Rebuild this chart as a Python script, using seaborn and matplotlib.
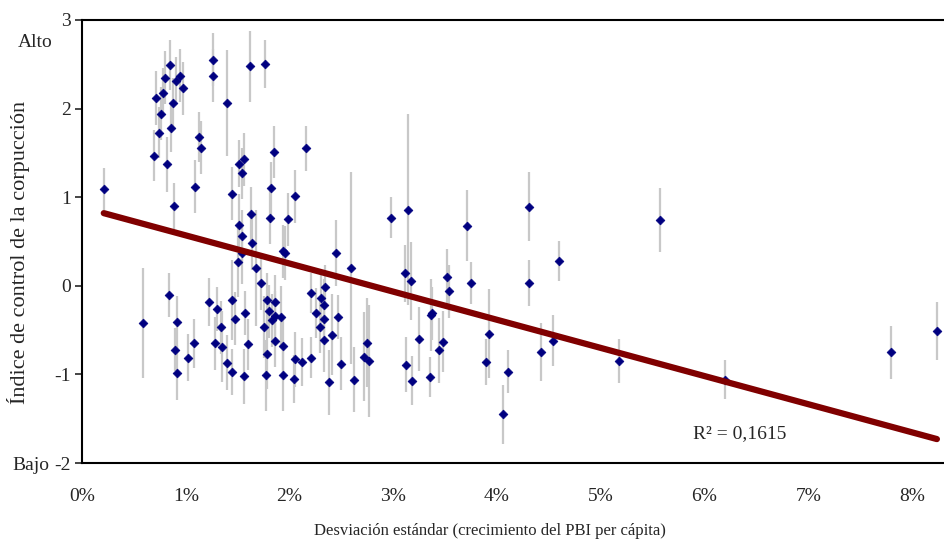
import numpy as np
import pandas as pd
import matplotlib
matplotlib.use("Agg")
import matplotlib.pyplot as plt
import seaborn as sns
from matplotlib.ticker import FuncFormatter

sns.set_style("white")
plt.rcParams['font.family'] = ['Liberation Serif', 'DejaVu Serif']
plt.rcParams['axes.unicode_minus'] = False

# ========== datos ==========
# desviacion estandar del crecimiento del PBI per capita (%)
sd_pct = [0.21, 0.71, 0.69, 0.74, 0.76, 0.78, 0.80, 0.85, 0.91, 0.94,
          0.97, 0.88, 0.86, 0.82, 0.89, 1.13, 1.15, 1.09, 1.26, 1.26,
          1.40, 1.62, 1.76, 1.85, 1.82, 1.51, 1.56, 1.54, 1.45, 1.63,
          2.16, 2.05, 3.14, 1.51, 1.81, 1.54, 1.64, 1.54, 1.50, 1.68,
          1.73, 1.94, 1.96, 1.99, 2.45, 2.59, 2.98, 3.71, 3.11, 3.17,
          3.52, 3.54, 3.75, 4.31, 4.31, 4.60, 5.57,
          0.59, 0.84, 0.92, 0.90, 0.92, 1.02, 1.08, 1.22, 1.30, 1.34,
          1.28, 1.35, 1.40, 1.45, 1.45, 1.47, 1.57, 1.60, 1.56, 1.78,
          1.86, 1.80, 1.86, 1.83, 1.75, 1.92, 1.86, 1.78, 1.77, 1.94,
          1.94, 2.05, 2.04, 2.12, 2.21, 2.21, 2.26, 2.30, 2.34, 2.33,
          2.33, 2.29, 2.33, 2.41, 2.47, 2.50, 2.38, 2.62, 2.75, 2.72,
          2.77, 3.12, 3.18, 3.25, 3.36, 3.37, 3.35, 3.44, 3.48, 3.92,
          3.89, 4.11, 4.06, 4.42, 4.54, 5.18, 6.20, 7.80, 8.24]
# indice de control de la corrupcion
ccorr = [1.09, 2.12, 1.47, 1.73, 1.94, 2.18, 2.35, 2.49, 2.31, 2.37,
         2.23, 2.06, 1.78, 1.37, 0.90, 1.68, 1.56, 1.12, 2.55, 2.37,
         2.06, 2.48, 2.50, 1.51, 1.10, 1.38, 1.43, 1.27, 1.04, 0.81,
         1.55, 1.01, 0.86, 0.69, 0.77, 0.56, 0.48, 0.37, 0.27, 0.20,
         0.03, 0.39, 0.37, 0.75, 0.37, 0.20, 0.77, 0.68, 0.14, 0.05,
         0.10, -0.06, 0.03, 0.89, 0.03, 0.28, 0.74,
         -0.42, -0.10, -0.41, -0.72, -0.98, -0.81, -0.65, -0.18, -0.26, -0.47,
         -0.65, -0.69, -0.87, -0.97, -0.16, -0.37, -0.31, -0.66, -1.02, -0.16,
         -0.18, -0.29, -0.34, -0.39, -0.46, -0.35, -0.62, -0.77, -1.01, -0.68,
         -1.01, -0.83, -1.05, -0.86, -0.81, -0.08, -0.31, -0.14, -0.01, -0.22,
         -0.38, -0.46, -0.61, -0.55, -0.35, -0.88, -1.09, -1.06, -0.64, -0.80,
         -0.85, -0.89, -1.07, -0.60, -0.33, -0.31, -1.03, -0.73, -0.63, -0.54,
         -0.86, -0.97, -1.45, -0.75, -0.62, -0.85, -1.06, -0.75, -0.51]
# semi-amplitud del intervalo (barras grises)
err = [0.24, 0.31, 0.29, 0.29, 0.30, 0.28, 0.30, 0.28, 0.27, 0.30,
       0.30, 0.29, 0.27, 0.31, 0.26, 0.28, 0.30, 0.30, 0.30, 0.30,
       0.60, 0.40, 0.27, 0.29, 0.30, 0.27, 0.30, 0.29, 0.30, 0.30,
       0.25, 0.30, 1.08, 0.35, 0.30, 0.30, 0.30, 0.35, 0.40, 0.65,
       0.30, 0.30, 0.30, 0.30, 0.37, 1.08, 0.23, 0.40, 0.32, 0.44,
       0.32, 0.30, 0.24, 0.39, 0.26, 0.23, 0.36,
       0.62, 0.25, 0.30, 0.24, 0.31, 0.27, 0.28, 0.27, 0.25, 0.30,
       0.30, 0.40, 0.31, 0.26, 0.45, 0.30, 0.25, 0.29, 0.31, 0.30,
       0.30, 0.30, 0.28, 0.30, 0.35, 0.35, 0.30, 0.40, 0.40, 0.35,
       0.40, 0.31, 0.27, 0.27, 0.23, 0.23, 0.28, 0.28, 0.25, 0.30,
       0.30, 0.30, 0.36, 0.46, 0.25, 0.30, 0.37, 0.37, 0.50, 0.50,
       0.63, 0.31, 0.28, 0.36, 0.41, 0.30, 0.23, 0.37, 0.34, 0.50,
       0.26, 0.24, 0.33, 0.33, 0.29, 0.25, 0.22, 0.30, 0.33]

# linea de tendencia (extremos)
trend_x = [0.21, 8.24]
trend_y = [0.82, -1.73]
r2_label = "R² = 0,1615"

df = pd.DataFrame({"sd": sd_pct, "cc": ccorr, "err": err})

# ========== grafico ==========
fig = plt.figure(figsize=(9.45, 5.42), dpi=100)
ax = fig.add_axes([82 / 945, 79 / 542, 1 - 82 / 945, (463 - 20) / 542])

ax.vlines(df["sd"], df["cc"] - df["err"], df["cc"] + df["err"],
          color="#c8c8c8", lw=1.6, zorder=1)
sns.scatterplot(data=df, x="sd", y="cc", marker="D", s=20, color="#000080",
                edgecolor="#000080", linewidth=0.5, ax=ax, zorder=3)
sns.lineplot(x=trend_x, y=trend_y, color="#800000", lw=4.5, ax=ax, zorder=4,
             solid_capstyle="round")

ax.set_xlim(0, (945 - 82) / 103.75)
ax.set_ylim(-2, 3)
ax.set_xticks(range(0, 9))
ax.xaxis.set_major_formatter(FuncFormatter(lambda v, p: f"{v:.0f}%"))
ax.set_yticks(range(-2, 4))

for s in ["left", "top", "bottom"]:
    ax.spines[s].set_color("black")
    ax.spines[s].set_linewidth(1.5)
ax.spines["right"].set_visible(False)

ax.tick_params(axis="x", length=0, pad=18, labelsize=14)
ax.tick_params(axis="y", direction="out", length=5, width=1.2, pad=3,
               labelsize=14, left=True)

ax.set_xlabel("Desviación estándar (crecimiento del PBI per cápita)", fontsize=12)
ax.xaxis.set_label_coords((490 - 82) / (945 - 82), -60 / 443)
ax.set_ylabel("Índice de control de la corpucción", fontsize=16)
ax.yaxis.set_label_coords(-52 / 863, (463 - 252) / 443)

ax.text(5.89, -1.67, r2_label, fontsize=14, ha="left", va="center")

fig.text(18 / 945, 1 - 42 / 542, "Alto", fontsize=14, va="center", ha="left")
fig.text(12 / 945, 1 - 466 / 542, "Bajo", fontsize=14, va="center", ha="left")

fig.savefig("out.png", dpi=100)
